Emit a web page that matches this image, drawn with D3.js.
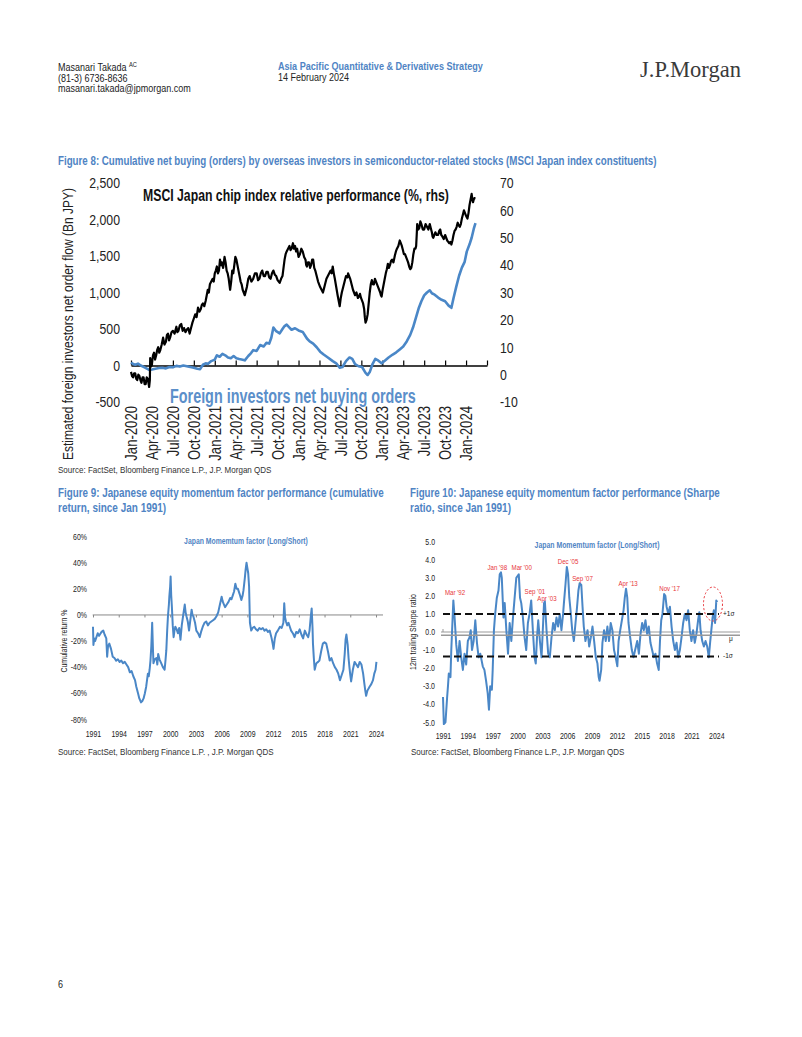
<!DOCTYPE html>
<html><head><meta charset="utf-8">
<script src="https://cdn.jsdelivr.net/npm/d3@7"></script>
<style>html,body{margin:0;padding:0;background:#fff;}svg{display:block;}</style>
</head><body>
<svg id="page" width="802" height="1037"></svg>
<script>
// ---------------- DATA ----------------
// Figure 8: months since Jan-2020
const fig8TickLabels = ["Jan-2020","Apr-2020","Jul-2020","Oct-2020","Jan-2021","Apr-2021","Jul-2021","Oct-2021","Jan-2022","Apr-2022","Jul-2022","Oct-2022","Jan-2023","Apr-2023","Jul-2023","Oct-2023","Jan-2024"];
const fig8LeftTicks = [-500,0,500,1000,1500,2000,2500];
const fig8RightTicks = [-10,0,10,20,30,40,50,60,70];
// MSCI Japan chip index relative performance (%, rhs)
const chipRelPerf = [[0,1],[0.15,-0.5],[0.3,-1],[0.45,0.5],[0.6,0.5],[0.75,-1.5],[0.9,-2],[1.05,0],[1.2,-0.5],[1.35,-2],[1.5,-3],[1.65,-1],[1.8,-1],[1.95,-3.5],[2.1,-3.5],[2.25,-1],[2.4,-1.5],[2.5,-3],[2.6,-4.5],[2.7,-2],[2.75,6],[2.9,3],[3.0,4],[3.15,7],[3.3,8],[3.45,5.5],[3.6,7],[3.75,9],[3.9,10],[4.05,8],[4.2,9],[4.4,11],[4.6,13.5],[4.8,11],[5.0,12],[5.15,14.5],[5.3,15],[5.45,12.5],[5.6,13.5],[5.8,15.5],[6.0,16],[6.25,15],[6.5,17.5],[6.65,15.5],[6.8,16],[7.0,18],[7.2,18.5],[7.4,16],[7.6,17],[7.8,15.5],[8.0,16.5],[8.2,17],[8.4,15],[8.6,17],[8.8,19],[9.0,20.5],[9.2,22],[9.4,21],[9.6,24.5],[9.8,23],[10.0,24],[10.15,25.5],[10.3,26],[10.5,25],[10.7,27],[10.85,29],[11.0,31],[11.15,30],[11.3,33],[11.5,34],[11.7,35],[11.85,34],[12.0,37],[12.15,38],[12.3,39.5],[12.45,37],[12.6,38],[12.75,42],[12.9,40],[13.0,41],[13.2,39],[13.4,43],[13.55,41],[13.7,38],[13.85,37],[14.0,35],[14.1,33],[14.2,31],[14.35,34],[14.5,38],[14.65,37],[14.8,40],[14.95,43],[15.1,42],[15.25,40],[15.4,38],[15.55,36],[15.7,34],[15.85,33],[16.0,31],[16.15,30],[16.3,29],[16.45,30.5],[16.6,32],[16.8,35],[17.0,36],[17.25,34],[17.5,35],[17.75,37],[18.0,37],[18.2,34.5],[18.4,35],[18.6,37],[18.8,38],[19.0,36],[19.2,36],[19.4,37.5],[19.6,37.5],[19.8,35.5],[20.0,35],[20.2,37],[20.4,38],[20.6,36.5],[20.8,36],[21.0,34.5],[21.3,33.5],[21.5,35],[21.7,36],[21.85,39],[22.0,42],[22.15,44],[22.3,45],[22.5,46],[22.7,47],[22.85,45.5],[23.0,46],[23.2,48],[23.35,46],[23.5,47],[23.65,45],[23.8,46],[24.0,43],[24.2,44],[24.4,46],[24.6,45],[24.8,43],[25.0,42],[25.1,40],[25.2,39.5],[25.35,41],[25.5,41],[25.65,39],[25.8,40],[25.95,42],[26.1,42],[26.25,39],[26.4,38],[26.6,36],[26.8,34],[26.95,33],[27.1,32],[27.3,31],[27.5,30],[27.65,31.5],[27.8,33],[28.0,35],[28.2,36],[28.4,37],[28.6,38],[28.75,37],[28.9,39.5],[29.05,37],[29.2,35],[29.4,32],[29.6,29],[29.75,27],[29.9,25],[30.05,28],[30.2,30],[30.4,32],[30.6,34],[30.8,36],[31.0,35.5],[31.1,37],[31.25,36],[31.4,35],[31.6,33],[31.8,31],[31.95,30],[32.1,29],[32.3,30],[32.5,28],[32.65,28.5],[32.8,29.5],[32.95,28],[33.1,27],[33.25,26],[33.4,24],[33.5,21],[33.6,19],[33.75,20],[33.9,22],[34.05,26],[34.2,30],[34.35,33],[34.5,34.5],[34.65,33],[34.8,33],[34.95,35],[35.1,34],[35.25,33],[35.4,32],[35.55,31],[35.7,30],[35.8,29],[35.9,28.5],[36.05,31],[36.2,33],[36.35,35],[36.5,37],[36.65,38.5],[36.8,40.5],[36.95,39],[37.1,40],[37.25,41.5],[37.4,42],[37.6,41],[37.8,43.5],[37.95,45],[38.1,46],[38.3,47],[38.5,49],[38.65,48],[38.8,47],[38.95,45.5],[39.1,44],[39.25,44],[39.4,43],[39.55,42],[39.7,41],[39.85,39.5],[40.0,38.5],[40.15,39],[40.3,41],[40.45,44],[40.6,46],[40.75,46],[40.85,47],[40.95,52],[41.0,55],[41.15,53],[41.3,53.5],[41.45,56],[41.6,55],[41.8,53],[42.0,53],[42.2,55],[42.4,54],[42.6,53],[42.8,55],[42.95,53.5],[43.1,52],[43.2,50.5],[43.3,50],[43.45,51],[43.6,52],[43.8,51],[44.0,51],[44.15,52.5],[44.3,53],[44.45,51],[44.6,50.5],[44.8,49.5],[45.0,51],[45.15,50],[45.3,49],[45.45,48.5],[45.6,48],[45.75,48.5],[45.9,47.5],[46.05,49],[46.2,51],[46.35,52.5],[46.5,53],[46.65,54],[46.8,55.5],[46.95,54.5],[47.1,54],[47.25,55],[47.4,57],[47.55,58.5],[47.7,60],[47.85,59],[48.0,58],[48.1,57.5],[48.2,57],[48.35,59],[48.5,62],[48.65,64],[48.8,66],[48.9,64],[49.0,63],[49.1,64],[49.2,64.5],[49.35,64.5]];
// Foreign investors cumulative net buying orders (Bn JPY, lhs)
const foreignNetBuying = [[0,40],[0.3,20],[0.6,10],[1.0,25],[1.4,0],[1.8,-20],[2.2,-40],[2.6,-60],[3.0,-55],[3.5,-45],[4.0,-35],[4.5,-30],[5.0,-40],[5.5,-20],[6.0,-25],[6.5,-5],[7.0,-15],[7.5,0],[8.0,-10],[8.5,-20],[9.0,-30],[9.5,-45],[9.9,-50],[10.3,10],[10.7,30],[11.0,20],[11.5,60],[12.0,80],[12.3,140],[12.7,120],[13.1,160],[13.5,140],[13.9,110],[14.3,100],[14.7,130],[15.1,100],[15.5,90],[16.0,80],[16.3,70],[16.8,130],[17.2,170],[17.5,210],[18.0,200],[18.5,280],[19.0,260],[19.4,310],[19.8,300],[20.1,380],[20.4,520],[20.8,470],[21.3,440],[21.7,500],[22.0,540],[22.3,560],[22.7,520],[23.0,490],[23.5,510],[24.0,480],[24.6,460],[25.0,400],[25.2,370],[25.6,330],[26.1,300],[26.6,250],[27.1,190],[27.6,150],[28.2,110],[28.9,60],[29.4,30],[29.9,-30],[30.3,-20],[30.8,60],[31.3,110],[31.7,90],[32.1,20],[32.6,-10],[33.1,-20],[33.6,-100],[33.9,-130],[34.2,-90],[34.6,20],[35.0,90],[35.4,70],[35.9,30],[36.4,70],[36.9,110],[37.5,150],[38.0,180],[38.5,220],[39.0,260],[39.5,330],[40.0,420],[40.4,520],[40.8,650],[41.2,780],[41.6,880],[42.0,960],[42.4,1000],[42.8,1030],[43.1,990],[43.5,970],[44.0,930],[44.5,900],[45.0,880],[45.5,820],[45.9,790],[46.2,920],[46.6,1080],[47.0,1230],[47.4,1340],[47.8,1420],[48.1,1560],[48.5,1660],[48.8,1750],[49.1,1870],[49.35,1950]];

// Figure 9: cumulative return % (decimal year)
const yearTicks = [1991,1994,1997,2000,2003,2006,2009,2012,2015,2018,2021,2024];
const fig9YTicks = [-80,-60,-40,-20,0,20,40,60];
const momentumCumReturn = [[1991.0,-9],[1991.05,-23],[1991.15,-18],[1991.25,-20],[1991.4,-17],[1991.55,-14],[1991.7,-16],[1991.8,-15],[1992.0,-13],[1992.2,-12],[1992.35,-15],[1992.55,-18],[1992.65,-32],[1992.75,-24],[1992.9,-22],[1993.1,-26],[1993.3,-32],[1993.5,-33],[1993.7,-35],[1993.9,-34],[1994.1,-36],[1994.3,-35],[1994.5,-37],[1994.7,-36],[1994.9,-38],[1995.1,-40],[1995.3,-44],[1995.5,-43],[1995.7,-47],[1995.9,-50],[1996.05,-55],[1996.25,-60],[1996.4,-64],[1996.6,-67],[1996.75,-66],[1996.9,-64],[1997.05,-60],[1997.2,-55],[1997.3,-50],[1997.4,-45],[1997.5,-47],[1997.6,-42],[1997.7,-35],[1997.8,-24],[1997.9,-6],[1998.0,-28],[1998.05,-37],[1998.2,-34],[1998.4,-33],[1998.5,-38],[1998.6,-30],[1998.75,-34],[1998.95,-37],[1999.15,-40],[1999.35,-42],[1999.45,-35],[1999.55,-27],[1999.65,-12],[1999.74,-1],[1999.85,8],[1999.9,14],[2000.0,22],[2000.05,29.5],[2000.12,15],[2000.2,6],[2000.3,-8],[2000.4,-17],[2000.5,-12],[2000.6,-9],[2000.75,-11],[2000.9,-14],[2001.05,-10],[2001.2,-19],[2001.35,-8],[2001.5,-1],[2001.7,8],[2001.8,2],[2001.9,-1],[2002.05,-5],[2002.2,-12],[2002.35,-4],[2002.5,4],[2002.6,0],[2002.7,-1],[2002.9,-6],[2003.05,-12],[2003.25,-14],[2003.45,-17],[2003.6,-13],[2003.8,-9],[2004.0,-6],[2004.2,-5],[2004.4,-8],[2004.6,-6],[2004.8,-5],[2005.0,-4],[2005.2,-3],[2005.4,-1],[2005.6,2],[2005.8,8],[2005.9,11],[2006.0,14],[2006.1,11],[2006.2,9],[2006.4,6],[2006.6,8],[2006.8,10],[2007.0,13],[2007.15,12],[2007.3,15],[2007.45,18],[2007.6,24],[2007.75,20],[2007.9,20],[2008.1,16],[2008.3,11.5],[2008.45,15],[2008.55,19],[2008.7,28],[2008.8,35],[2008.9,40],[2009.0,36],[2009.1,32],[2009.2,22],[2009.3,-6],[2009.45,-12],[2009.6,-10],[2009.8,-9],[2010.0,-11],[2010.2,-12],[2010.4,-10],[2010.6,-11],[2010.8,-10],[2011.0,-12],[2011.2,-11],[2011.4,-13],[2011.6,-12],[2011.8,-17],[2011.95,-22],[2012.05,-26],[2012.2,-18],[2012.35,-14],[2012.55,-12],[2012.8,-9],[2013.0,-10],[2013.2,-6],[2013.3,9],[2013.4,-2],[2013.5,-5],[2013.65,-8],[2013.8,-6],[2013.95,-9],[2014.1,-12],[2014.3,-14],[2014.5,-17],[2014.7,-13],[2014.9,-14],[2015.1,-11],[2015.3,-15],[2015.5,-18],[2015.7,-12],[2015.9,-15],[2016.1,-17],[2016.25,-12],[2016.4,-1],[2016.5,5],[2016.6,-10],[2016.65,-22],[2016.75,-33],[2016.85,-42],[2017.0,-38],[2017.05,-37],[2017.25,-36],[2017.4,-35],[2017.6,-28],[2017.8,-22],[2018.0,-21],[2018.2,-22],[2018.4,-28],[2018.6,-35],[2018.8,-33],[2019.0,-37],[2019.2,-40],[2019.4,-42],[2019.6,-45],[2019.8,-50],[2020.0,-46],[2020.2,-42],[2020.35,-30],[2020.45,-19],[2020.55,-15],[2020.7,-23],[2020.8,-33],[2020.9,-40],[2021.0,-46],[2021.1,-51],[2021.3,-42],[2021.5,-36],[2021.7,-38],[2021.9,-40],[2022.1,-36],[2022.3,-38],[2022.5,-45],[2022.65,-53],[2022.75,-58],[2022.85,-62],[2023.0,-58],[2023.25,-55],[2023.45,-53],[2023.65,-50],[2023.8,-45],[2023.95,-42],[2024.05,-36]];

// Figure 10: 12m trailing Sharpe ratio
const fig10YTicks = [-5,-4,-3,-2,-1,0,1,2,3,4,5];
const momentumSharpe = [[1991.0,-3.6],[1991.1,-5.1],[1991.3,-5.0],[1991.5,-3.6],[1991.6,-3.0],[1991.7,-2.3],[1991.9,-2.5],[1992.0,-1.0],[1992.1,0.1],[1992.25,1.75],[1992.4,0.8],[1992.6,-0.7],[1992.8,-1.6],[1993.0,-0.5],[1993.2,-1.4],[1993.4,-2.1],[1993.6,-1.2],[1993.8,-1.8],[1994.0,-0.5],[1994.2,-0.3],[1994.35,0.1],[1994.5,-1.0],[1994.7,-0.5],[1994.9,0.65],[1995.1,-0.6],[1995.3,-1.4],[1995.5,-1.2],[1995.8,-1.9],[1996.0,-2.1],[1996.2,-2.7],[1996.4,-3.4],[1996.55,-4.3],[1996.7,-3.0],[1996.9,-3.2],[1997.0,-2.1],[1997.15,0.1],[1997.3,1.0],[1997.5,1.9],[1997.7,2.3],[1997.85,3.2],[1998.0,3.3],[1998.1,3.0],[1998.3,0.8],[1998.45,1.6],[1998.65,0.1],[1998.85,-1.2],[1999.05,0.5],[1999.25,-0.5],[1999.45,0.8],[1999.65,1.9],[1999.85,3.0],[2000.0,3.1],[2000.15,3.2],[2000.3,1.9],[2000.45,1.6],[2000.65,0.8],[2000.85,-0.3],[2001.05,-1.0],[2001.25,0.5],[2001.45,1.0],[2001.65,1.75],[2001.85,0.1],[2002.05,-1.4],[2002.2,-1.75],[2002.35,-0.3],[2002.5,0.65],[2002.7,-0.5],[2002.9,-1.4],[2003.05,0.1],[2003.2,1.6],[2003.3,1.7],[2003.5,0.1],[2003.7,-1.2],[2003.9,-1.4],[2004.1,-0.3],[2004.3,0.5],[2004.5,0.1],[2004.7,0.8],[2004.9,0.3],[2005.1,1.0],[2005.3,0.1],[2005.5,1.0],[2005.6,1.6],[2005.8,2.7],[2005.95,3.6],[2006.1,3.2],[2006.25,1.9],[2006.4,1.2],[2006.6,0.1],[2006.8,-0.5],[2007.0,0.5],[2007.15,1.2],[2007.35,2.3],[2007.5,2.7],[2007.7,2.6],[2007.85,1.4],[2008.0,0.3],[2008.2,-0.5],[2008.45,0.1],[2008.65,-0.8],[2008.85,-0.3],[2009.05,0.3],[2009.25,-0.5],[2009.45,-1.4],[2009.65,-1.75],[2009.8,-2.5],[2009.9,-2.7],[2010.1,-2.1],[2010.25,-0.6],[2010.45,0.1],[2010.65,-0.5],[2010.85,0.3],[2011.05,-0.5],[2011.25,0.5],[2011.45,0.1],[2011.65,-1.0],[2011.85,-1.4],[2012.05,-1.9],[2012.2,-0.5],[2012.4,0.1],[2012.6,0.65],[2012.8,1.2],[2012.95,1.9],[2013.1,2.4],[2013.25,1.9],[2013.4,0.5],[2013.6,-0.3],[2013.8,-1.0],[2014.0,-1.4],[2014.2,-1.0],[2014.45,-0.5],[2014.65,-1.2],[2014.85,-0.1],[2015.05,0.5],[2015.25,0.1],[2015.45,0.65],[2015.65,-0.1],[2015.85,0.3],[2016.05,-0.6],[2016.25,-1.0],[2016.45,-1.4],[2016.65,-1.2],[2016.85,-1.75],[2017.05,-2.1],[2017.2,-0.5],[2017.35,0.65],[2017.5,1.0],[2017.7,2.1],[2017.85,2.0],[2018.0,1.4],[2018.2,1.0],[2018.4,1.4],[2018.6,0.3],[2018.8,-0.5],[2019.0,-1.0],[2019.2,-0.6],[2019.4,-1.4],[2019.6,-1.0],[2019.8,-0.3],[2020.0,0.5],[2020.2,1.0],[2020.4,0.65],[2020.6,1.2],[2020.8,0.1],[2021.0,-0.5],[2021.2,0.1],[2021.4,-0.6],[2021.6,-0.1],[2021.8,0.65],[2021.95,1.1],[2022.1,0.1],[2022.3,-0.5],[2022.5,-0.8],[2022.7,-0.5],[2022.9,-0.8],[2023.1,-1.4],[2023.25,-0.6],[2023.4,0.1],[2023.55,0.8],[2023.7,1.2],[2023.85,0.5],[2024.0,1.75],[2024.1,1.65]];
const sharpeBands = [["+1σ",1.0,"dash"],["μ",-0.18,"solid"],["-1σ",-1.35,"dash"]];
const sharpePeaks = [["Mar '92",1992.45,2.16],["Jan '98",1997.55,3.55],["Mar '00",2000.5,3.55],["Sep '01",2002.1,2.27],["Apr '03",2003.55,1.83],["Dec '05",2006.1,3.88],["Sep '07",2007.85,2.99],["Apr '13",2013.35,2.68],["Nov '17",2018.35,2.43]];
const sharpeHighlight = [2023.6,1.55];

// ---------------- DRAW ----------------
const FONT = "'Liberation Sans',Arial,sans-serif";
const SX = 0.82; // emulate Arial Narrow
const BLUE_T = "#4f84c4";
const BLUE_L = "#4a87c7";
const svg = d3.select("#page");
const hyph = f => (d => f(d).replace("\u2212", "-"));

function txt(g, x, y, s, o = {}) {
  const t = g.append("text").attr("x", 0).attr("y", 0).text(s)
    .attr("font-family", o.family || FONT)
    .attr("font-size", o.size || 10)
    .attr("font-weight", o.weight || "normal")
    .attr("fill", o.fill || "#222")
    .attr("text-anchor", o.anchor || "start");
  let sx = o.sx || SX;
  if (o.len) sx = o.len / t.node().getComputedTextLength();
  t.attr("transform", `translate(${x},${y})${o.rotate ? ` rotate(${o.rotate})` : ""} scale(${sx},1)`);
  return t;
}
function narrowify(sel, rot) {
  sel.each(function () {
    const t = d3.select(this);
    const x = +t.attr("x") || 0, y = +t.attr("y") || 0;
    t.attr("x", 0).attr("y", 0)
     .attr("transform", `translate(${x},${y})${rot ? ` rotate(${rot})` : ""} scale(${SX},1)`);
  });
}

// Header
const h = svg.append("g");
const nm = txt(h, 58, 71, "Masanari Takada ", {size: 11});
nm.append("tspan").attr("font-size", 7).attr("dy", -4).text("AC");
txt(h, 58, 82, "(81-3) 6736-8636", {size: 11});
txt(h, 58, 92, "masanari.takada@jpmorgan.com", {size: 11});
txt(h, 278, 70, "Asia Pacific Quantitative & Derivatives Strategy", {size: 11, weight: "bold", fill: BLUE_T, len: 205});
txt(h, 278, 81, "14 February 2024", {size: 11});
txt(h, 640, 77, "J.P.Morgan", {family: "'Liberation Serif','DejaVu Serif',serif", size: 24, fill: "#3a3a3a", len: 101});

// ---------- Figure 8 ----------
txt(svg, 58, 165, "Figure 8: Cumulative net buying (orders) by overseas investors in semiconductor-related stocks (MSCI Japan index constituents)", {size: 12, weight: "bold", fill: BLUE_T, len: 599});
const f8 = svg.append("g");
const x8 = d3.scaleLinear().domain([0, 51]).range([131, 487]);
const yL = d3.scaleLinear().domain([-500, 2500]).range([402, 183]);
const yR = d3.scaleLinear().domain([-10, 70]).range([402, 183]);

f8.append("g").attr("transform", "translate(131,0)")
  .call(d3.axisLeft(yL).tickValues(fig8LeftTicks).tickSize(0).tickPadding(11).tickFormat(hyph(d3.format(","))))
  .call(g => g.select(".domain").remove())
  .call(g => narrowify(g.selectAll("text").attr("font-family", FONT).attr("font-size", 15).attr("fill", "#222")));
f8.append("g").attr("transform", "translate(487,0)")
  .call(d3.axisRight(yR).tickValues(fig8RightTicks).tickSize(0).tickPadding(13).tickFormat(hyph(d3.format("d"))))
  .call(g => g.select(".domain").remove())
  .call(g => narrowify(g.selectAll("text").attr("font-family", FONT).attr("font-size", 15).attr("fill", "#222")));

// zero axis line with quarterly ticks
const qTicks = d3.range(0, 52, 3);
f8.append("g").attr("transform", `translate(0,${yL(0)})`)
  .call(d3.axisBottom(x8).tickValues(qTicks).tickSizeInner(-5).tickSizeOuter(0).tickFormat(""))
  .call(g => g.select(".domain").attr("stroke", "#000").attr("stroke-width", 1.5))
  .call(g => g.selectAll(".tick line").attr("stroke", "#000").attr("stroke-width", 1.2));

// rotated date labels
f8.append("g").attr("transform", "translate(0,406)")
  .call(d3.axisBottom(x8).tickValues(d3.range(0, 49, 3)).tickSize(0).tickFormat((d, i) => fig8TickLabels[i]))
  .call(g => g.select(".domain").remove())
  .call(g => narrowify(g.selectAll("text")
     .attr("font-family", FONT).attr("font-size", 16).attr("fill", "#222")
     .attr("text-anchor", "end").attr("x", 0).attr("y", 0).attr("dx", 0).attr("dy", "0.35em"), -90));

txt(f8, 73, 324, "Estimated foreign investors net order flow (Bn JPY)", {size: 15, anchor: "middle", rotate: -90, len: 272});

f8.append("path").datum(foreignNetBuying)
  .attr("d", d3.line().x(d => x8(d[0])).y(d => yL(d[1])))
  .attr("fill", "none").attr("stroke", BLUE_L).attr("stroke-width", 2.6).attr("stroke-linejoin", "round");
f8.append("path").datum(chipRelPerf)
  .attr("d", d3.line().x(d => x8(d[0])).y(d => yR(d[1])))
  .attr("fill", "none").attr("stroke", "#000").attr("stroke-width", 2.2).attr("stroke-linejoin", "round");

txt(f8, 143, 201, "MSCI Japan chip index relative performance (%, rhs)", {size: 17, weight: "bold", fill: "#111", len: 306});
txt(f8, 170, 403, "Foreign investors net buying orders", {size: 21, weight: "bold", fill: "#5b8fca", len: 246});
txt(svg, 58, 473, "Source: FactSet, Bloomberg Finance L.P., J.P. Morgan QDS", {size: 9.8, fill: "#333"});

// ---------- Figure 9 ----------
txt(svg, 58, 497, "Figure 9: Japanese equity momentum factor performance (cumulative", {size: 12.5, weight: "bold", fill: BLUE_T, len: 326});
txt(svg, 58, 512, "return, since Jan 1991)", {size: 12.5, weight: "bold", fill: BLUE_T, sx: 0.8});
const f9 = svg.append("g");
const x9 = d3.scaleLinear().domain([1991, 2024]).range([93, 376]);
const y9 = d3.scaleLinear().domain([-80, 60]).range([719.3, 536.7]);
f9.append("g").attr("transform", "translate(93,0)")
  .call(d3.axisLeft(y9).tickValues(fig9YTicks).tickSize(0).tickPadding(6).tickFormat(d => d + "%"))
  .call(g => g.select(".domain").remove())
  .call(g => narrowify(g.selectAll("text").attr("font-family", FONT).attr("font-size", 8.5).attr("fill", "#222")));
f9.append("line").attr("x1", 92.7).attr("x2", 383).attr("y1", y9(0)).attr("y2", y9(0)).attr("stroke", "#888").attr("stroke-width", 1);
f9.append("g").attr("transform", `translate(0,${y9(0)})`)
  .call(d3.axisBottom(x9).tickValues(yearTicks).tickSize(2.5).tickFormat(""))
  .call(g => g.select(".domain").remove())
  .call(g => g.selectAll(".tick line").attr("stroke", "#888"));
f9.append("g").attr("transform", "translate(0,728)")
  .call(d3.axisBottom(x9).tickValues(yearTicks).tickSize(0).tickFormat(d3.format("d")))
  .call(g => g.select(".domain").remove())
  .call(g => narrowify(g.selectAll("text").attr("font-family", FONT).attr("font-size", 8.5).attr("fill", "#222")));
txt(f9, 67, 641, "Cumulative return %", {size: 8.5, anchor: "middle", rotate: -90});
txt(f9, 246, 544, "Japan Momemtum factor (Long/Short)", {size: 8.5, weight: "bold", fill: BLUE_T, anchor: "middle", len: 124});
f9.append("path").datum(momentumCumReturn)
  .attr("d", d3.line().x(d => x9(d[0])).y(d => y9(d[1])))
  .attr("fill", "none").attr("stroke", BLUE_L).attr("stroke-width", 2).attr("stroke-linejoin", "round");
txt(svg, 58, 755, "Source: FactSet, Bloomberg Finance L.P. , J.P. Morgan QDS", {size: 9.8, fill: "#333"});

// ---------- Figure 10 ----------
txt(svg, 410, 497, "Figure 10: Japanese equity momentum factor performance (Sharpe", {size: 12.5, weight: "bold", fill: BLUE_T, len: 310});
txt(svg, 410, 512, "ratio, since Jan 1991)", {size: 12.5, weight: "bold", fill: BLUE_T, sx: 0.8});
const f10 = svg.append("g");
const x10 = d3.scaleLinear().domain([1991, 2024]).range([443, 716.3]);
const y10 = d3.scaleLinear().domain([-5, 5]).range([722.3, 541.7]);
f10.append("g").attr("transform", "translate(441,0)")
  .call(d3.axisLeft(y10).tickValues(fig10YTicks).tickSize(0).tickPadding(6).tickFormat(hyph(d3.format(".1f"))))
  .call(g => g.select(".domain").remove())
  .call(g => narrowify(g.selectAll("text").attr("font-family", FONT).attr("font-size", 8.5).attr("fill", "#222")));
f10.append("line").attr("x1", 441).attr("x2", 740).attr("y1", y10(0)).attr("y2", y10(0)).attr("stroke", "#999").attr("stroke-width", 1);
f10.append("line").attr("x1", 443).attr("x2", 443).attr("y1", y10(0) - 3).attr("y2", y10(0)).attr("stroke", "#999");
f10.append("g").attr("transform", "translate(0,730)")
  .call(d3.axisBottom(x10).tickValues(yearTicks).tickSize(0).tickFormat(d3.format("d")))
  .call(g => g.select(".domain").remove())
  .call(g => narrowify(g.selectAll("text").attr("font-family", FONT).attr("font-size", 8.5).attr("fill", "#222")));
txt(f10, 416, 632, "12m trailing Sharpe ratio", {size: 8.5, anchor: "middle", rotate: -90});
txt(f10, 597, 548, "Japan Momemtum factor (Long/Short)", {size: 8.5, weight: "bold", fill: BLUE_T, anchor: "middle", len: 125});

f10.append("path").datum(momentumSharpe)
  .attr("d", d3.line().x(d => x10(d[0])).y(d => y10(d[1])))
  .attr("fill", "none").attr("stroke", BLUE_L).attr("stroke-width", 2).attr("stroke-linejoin", "round");

sharpeBands.forEach(([lab, v, style]) => {
  if (style === "dash") {
    f10.append("line").attr("x1", 443).attr("x2", 719).attr("y1", y10(v)).attr("y2", y10(v))
      .attr("stroke", "#111").attr("stroke-width", 2).attr("stroke-dasharray", "7,4");
  } else {
    f10.append("line").attr("x1", 441).attr("x2", 740).attr("y1", y10(v)).attr("y2", y10(v))
      .attr("stroke", "#999").attr("stroke-width", 1.5);
  }
  txt(f10, style === "dash" ? 723 : 729, y10(v) + (style === "dash" ? 2 : 6), lab, {size: 8, fill: "#222"});
});

sharpePeaks.forEach(([lab, yr, v]) => {
  txt(f10, x10(yr), y10(v) + 2.5, lab, {size: 7.5, fill: "#e8353a", anchor: "middle"});
});
f10.append("ellipse").attr("cx", x10(sharpeHighlight[0])).attr("cy", y10(sharpeHighlight[1]))
  .attr("rx", 9.5).attr("ry", 17).attr("fill", "none").attr("stroke", "#e8353a").attr("stroke-width", 1).attr("stroke-dasharray", "2,2");
txt(svg, 411, 755, "Source: FactSet, Bloomberg Finance L.P., J.P. Morgan QDS", {size: 9.8, fill: "#333"});

txt(svg, 58, 988, "6", {size: 11});
</script>
</body></html>
